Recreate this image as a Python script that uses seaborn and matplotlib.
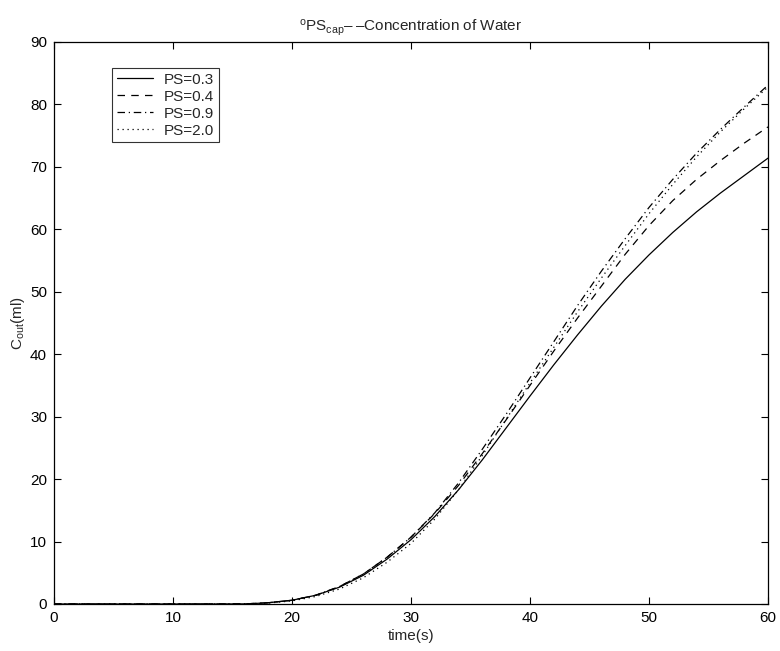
import matplotlib
matplotlib.use("Agg")
import matplotlib.pyplot as plt
import seaborn as sns
import pandas as pd

time = [0, 2, 4, 6, 8, 10, 12, 14, 16, 17, 18, 20, 22, 24, 26, 28, 30, 32, 34, 36, 38, 40, 42, 44, 46, 48, 50, 52, 54, 56, 58, 60]
ps03 = [0, 0, 0, 0, 0, 0, 0, 0, 0.02, 0.1, 0.2, 0.6, 1.4, 2.7, 4.6, 7.2, 10.3, 14.0, 18.3, 23.1, 28.2, 33.3, 38.3, 43.1, 47.7, 52.0, 55.9, 59.5, 62.8, 65.8, 68.6, 71.4]
ps04 = [0, 0, 0, 0, 0, 0, 0, 0, 0.02, 0.1, 0.2, 0.6, 1.4, 2.8, 4.8, 7.5, 10.7, 14.5, 19.0, 24.1, 29.5, 35.0, 40.5, 45.8, 50.9, 56.0, 60.6, 64.6, 68.0, 71.0, 73.8, 76.4]
ps09 = [0, 0, 0, 0, 0, 0, 0, 0, 0.02, 0.1, 0.2, 0.6, 1.4, 2.8, 4.8, 7.5, 10.7, 14.6, 19.4, 24.8, 30.4, 36.2, 42.0, 47.8, 53.3, 58.5, 63.5, 68.0, 72.2, 76.0, 79.6, 83.1]
ps20 = [0, 0, 0, 0, 0, 0, 0, 0, 0.01, 0.05, 0.15, 0.5, 1.2, 2.4, 4.2, 6.7, 9.7, 13.6, 18.3, 23.8, 29.6, 35.4, 41.1, 46.8, 52.2, 57.4, 62.5, 67.2, 71.6, 75.6, 79.3, 82.8]
labels = ["PS=0.3", "PS=0.4", "PS=0.9", "PS=2.0"]

df = pd.DataFrame({
    "time": time * 4,
    "C": ps03 + ps04 + ps09 + ps20,
    "series": sum([[l] * len(time) for l in labels], []),
})

sns.set_style("ticks")
plt.rcParams['font.family'] = ['Liberation Sans', 'DejaVu Sans']
plt.rcParams['mathtext.fontset'] = 'custom'
plt.rcParams['mathtext.rm'] = 'Liberation Sans'
plt.rcParams['mathtext.it'] = 'Liberation Sans'

FS = 11
fig = plt.figure(figsize=(7.8, 6.51), dpi=100)
ax = fig.add_axes([0.0692, 0.0722, 0.9154, 0.8633])

styles = {"PS=0.3": "-", "PS=0.4": (0, (6, 5)), "PS=0.9": (0, (6, 3, 1, 3)), "PS=2.0": (0, (1, 3))}
for l in labels:
    sub = df[df.series == l]
    sns.lineplot(data=sub, x="time", y="C", ax=ax, color="black", lw=0.9,
                 linestyle=styles[l], label=l)

ax.set_xlim(0, 60)
ax.set_ylim(0, 90)
ax.set_xticks(range(0, 61, 10))
ax.set_yticks(range(0, 91, 10))
ax.tick_params(direction="in", top=True, right=True, labelsize=FS, length=5, width=0.8,
               colors="black", pad=5)
for s in ax.spines.values():
    s.set_visible(True)
    s.set_linewidth(0.9)
    s.set_color("black")
ax.set_xlabel("time(s)", fontsize=FS, labelpad=3)
ax.set_ylabel(r"C$_{\rm out}$(ml)", fontsize=FS, labelpad=2)
ax.set_title("$^{\\rm o}$PS$_{\\rm cap}$\u2013\u2009\u2013Concentration of Water", fontsize=FS, pad=8)

leg = ax.legend(loc="upper left", bbox_to_anchor=(0.0812, 0.9537), frameon=True, fancybox=False,
                edgecolor="black", fontsize=FS, handlelength=2.4, borderpad=0.3,
                labelspacing=0.2, handletextpad=0.7, borderaxespad=0)
leg.get_frame().set_linewidth(0.8)

fig.savefig("out.png", dpi=100)
